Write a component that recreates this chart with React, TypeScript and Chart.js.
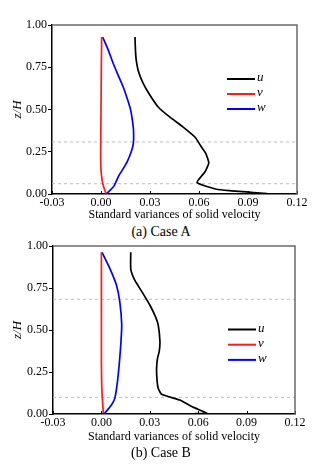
import React, { useEffect, useRef } from "react";
import { Chart, registerables } from "chart.js";

Chart.register(...registerables);

// ---- axes ----
const X_TICKS = [-0.03, 0, 0.03, 0.06, 0.09, 0.12];
const Y_TICKS = [0, 0.25, 0.5, 0.75, 1];
const X_TITLE = "Standard variances of solid velocity";
const Y_TITLE = "z/H";
const SERIES_NAMES = ["u", "v", "w"];
const SERIES_COLORS = ["#000000", "#ff1a1a", "#0000ff"];

// ---- Case A ----
const A_U_X = [0.0208, 0.0211, 0.0216, 0.0228, 0.0259, 0.030, 0.035, 0.042, 0.0503, 0.0575, 0.0615, 0.0642, 0.066, 0.0636, 0.0588, 0.0707, 0.080, 0.089, 0.0975, 0.1017];
const A_U_Y = [0.929, 0.85, 0.79, 0.73, 0.653, 0.584, 0.515, 0.456, 0.396, 0.337, 0.278, 0.239, 0.183, 0.13, 0.068, 0.028, 0.019, 0.012, 0.006, 0.002];
const A_V_X = [0.0004, 0.0002, 0.0, -0.0002, -0.0001, 0.0003, 0.001, 0.0022, 0.0032];
const A_V_Y = [0.929, 0.75, 0.5, 0.25, 0.16, 0.11, 0.065, 0.025, 0.002];
const A_W_X = [0.001, 0.0045, 0.0075, 0.0106, 0.0136, 0.0162, 0.0182, 0.0193, 0.0199, 0.0198, 0.0185, 0.016, 0.0136, 0.011, 0.0078, 0.0035];
const A_W_Y = [0.929, 0.85, 0.772, 0.70, 0.633, 0.56, 0.495, 0.43, 0.377, 0.298, 0.25, 0.19, 0.15, 0.11, 0.045, 0.002];
const A_DASH_Y = [0.308, 0.061];

// ---- Case B ----
const B_U_X = [0.0182, 0.0182, 0.0205, 0.0238, 0.030, 0.0335, 0.0352, 0.0363, 0.0358, 0.0348, 0.0342, 0.0345, 0.0352, 0.0373, 0.0487, 0.056, 0.0632, 0.0653, 0.058];
const B_U_Y = [0.9625, 0.863, 0.80, 0.748, 0.649, 0.58, 0.53, 0.43, 0.37, 0.332, 0.27, 0.20, 0.153, 0.117, 0.083, 0.044, 0.014, 0.004, 0.002];
const B_V_X = [0.0, 0.0, 0.0, 0.0002, 0.0006, 0.0012];
const B_V_Y = [0.9625, 0.6, 0.3, 0.17, 0.093, 0.004];
const B_W_X = [0.0004, 0.0052, 0.0093, 0.0114, 0.0126, 0.012, 0.011, 0.0097, 0.0083, 0.0062, 0.002];
const B_W_Y = [0.9625, 0.867, 0.768, 0.668, 0.53, 0.41, 0.29, 0.173, 0.093, 0.054, 0.004];
const B_DASH_Y = [0.683, 0.099];

const CAPTION_A = "(a) Case A";
const CAPTION_B = "(b) Case B";

const FONT_FAMILY = "'Liberation Serif', 'Times New Roman', serif";

function pairs(xs: number[], ys: number[]) {
  return xs.map((x, i) => ({ x, y: ys[i] }));
}

const framePlugin = {
  id: "frame",
  afterDraw(chart: any, _args: any, opts: any) {
    const { ctx, chartArea: a, scales } = chart;
    ctx.save();
    // inward x ticks
    ctx.strokeStyle = "#000";
    ctx.lineWidth = 1;
    X_TICKS.forEach((v) => {
      const px = Math.round(scales.x.getPixelForValue(v)) + 0.5;
      ctx.beginPath();
      ctx.moveTo(px, a.bottom);
      ctx.lineTo(px, a.bottom - 3);
      ctx.stroke();
    });
    // grey top/right frame
    ctx.strokeStyle = "#6a6a6a";
    ctx.lineWidth = 1.5;
    ctx.beginPath();
    ctx.moveTo(a.left, a.top);
    ctx.lineTo(a.right, a.top);
    ctx.lineTo(a.right, a.bottom);
    ctx.stroke();
    // legend
    if (opts && opts.legend) {
      const L = opts.legend;
      ctx.font = `italic 13px ${FONT_FAMILY}`;
      ctx.textBaseline = "middle";
      ctx.textAlign = "left";
      SERIES_NAMES.forEach((name, i) => {
        const y = L.y + i * L.dy;
        ctx.strokeStyle = SERIES_COLORS[i];
        ctx.lineWidth = 2;
        ctx.beginPath();
        ctx.moveTo(L.x, y);
        ctx.lineTo(L.x + L.len, y);
        ctx.stroke();
        ctx.fillStyle = "#000";
        ctx.fillText(name, L.x + L.len + 2, y - 1);
      });
    }
    ctx.restore();
  },
};

function makeConfig(
  series: { x: number[]; y: number[] }[],
  dashes: number[],
  legend: any,
  padTop: number,
  padRight: number,
  yWidth: number,
  xHeight: number
): any {
  const font = { family: FONT_FAMILY, size: 12 };
  return {
    type: "scatter",
    data: {
      datasets: [
        ...series.map((s, i) => ({
          label: SERIES_NAMES[i],
          data: pairs(s.x, s.y),
          borderColor: SERIES_COLORS[i],
          backgroundColor: SERIES_COLORS[i],
          borderWidth: 1.7,
          showLine: true,
          pointRadius: 0,
          tension: 0.15,
          fill: false,
        })),
        ...dashes.map((d) => ({
          label: "dash",
          data: [
            { x: X_TICKS[0], y: d },
            { x: X_TICKS[X_TICKS.length - 1], y: d },
          ],
          borderColor: "#bdbdbd",
          borderWidth: 1,
          borderDash: [3, 3],
          showLine: true,
          pointRadius: 0,
        })),
      ],
    },
    options: {
      animation: false,
      responsive: false,
      maintainAspectRatio: false,
      devicePixelRatio: 1,
      layout: { padding: { top: padTop, right: padRight, left: 0, bottom: 0 } },
      plugins: {
        legend: { display: false },
        tooltip: { enabled: false },
        frame: { legend },
      },
      scales: {
        x: {
          type: "linear",
          min: X_TICKS[0],
          max: X_TICKS[X_TICKS.length - 1],
          afterBuildTicks: (s: any) => {
            s.ticks = X_TICKS.map((value) => ({ value }));
          },
          afterFit: (s: any) => {
            s.height = xHeight;
          },
          ticks: {
            callback: (v: any) => Number(v).toFixed(2),
            font,
            color: "#000",
            padding: 2,
            maxRotation: 0,
            autoSkip: false,
          },
          grid: { display: false, drawTicks: false },
          border: { display: true, color: "#000", width: 1.5 },
          title: {
            display: true,
            text: X_TITLE,
            font,
            color: "#000",
            padding: { top: 0, bottom: 2 },
          },
        },
        y: {
          type: "linear",
          min: Y_TICKS[0],
          max: Y_TICKS[Y_TICKS.length - 1],
          afterBuildTicks: (s: any) => {
            s.ticks = Y_TICKS.map((value) => ({ value }));
          },
          afterFit: (s: any) => {
            s.width = yWidth;
          },
          ticks: {
            callback: (v: any) => Number(v).toFixed(2),
            font,
            color: "#000",
            padding: 1,
            autoSkip: false,
          },
          grid: {
            display: true,
            drawOnChartArea: false,
            drawTicks: true,
            tickLength: 4,
            color: "#000",
            lineWidth: 1,
          },
          border: { display: true, color: "#000", width: 1.5 },
          title: {
            display: true,
            text: Y_TITLE,
            font: { family: FONT_FAMILY, size: 13, style: "italic" },
            color: "#000",
            padding: { top: 10, bottom: 0 },
          },
        },
      },
    },
    plugins: [framePlugin],
  };
}

function ChartCanvas(props: {
  top: number;
  height: number;
  config: any;
}) {
  const ref = useRef<HTMLCanvasElement | null>(null);
  useEffect(() => {
    if (!ref.current) return;
    const chart = new Chart(ref.current, props.config);
    return () => chart.destroy();
  }, []);
  return (
    <canvas
      ref={ref}
      width={327}
      height={props.height}
      style={{
        position: "absolute",
        left: 0,
        top: props.top,
        width: 327,
        height: props.height,
      }}
    />
  );
}

export default function App() {
  const configA = makeConfig(
    [
      { x: A_U_X, y: A_U_Y },
      { x: A_V_X, y: A_V_Y },
      { x: A_W_X, y: A_W_Y },
    ],
    A_DASH_Y,
    { x: 227, y: 79, dy: 15, len: 28 },
    25,
    30,
    52,
    30
  );
  const configB = makeConfig(
    [
      { x: B_U_X, y: B_U_Y },
      { x: B_V_X, y: B_V_Y },
      { x: B_W_X, y: B_W_Y },
    ],
    B_DASH_Y,
    { x: 228, y: 93.5, dy: 15.2, len: 28 },
    10,
    32,
    53,
    32
  );
  const caption: React.CSSProperties = {
    position: "absolute",
    left: 0,
    width: 322,
    textAlign: "center",
    fontFamily: FONT_FAMILY,
    fontSize: 14,
    lineHeight: "14px",
    color: "#000",
  };
  return (
    <div
      style={{
        position: "fixed",
        left: 0,
        top: 0,
        width: 327,
        height: 466,
        background: "#fff",
        overflow: "hidden",
      }}
    >
      <ChartCanvas top={0} height={224} config={configA} />
      <div style={{ ...caption, top: 225 }}>{CAPTION_A}</div>
      <ChartCanvas top={236} height={210} config={configB} />
      <div style={{ ...caption, top: 446 }}>{CAPTION_B}</div>
    </div>
  );
}
